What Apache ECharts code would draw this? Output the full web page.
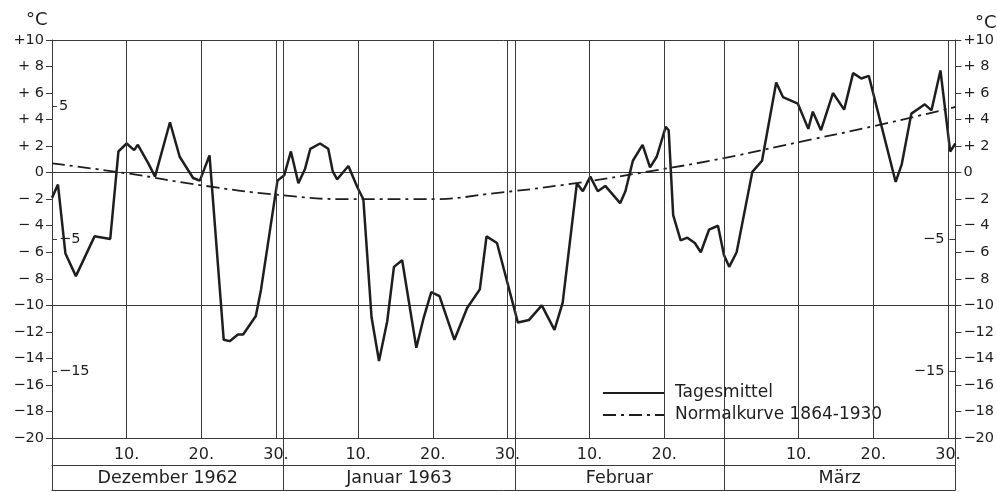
<!DOCTYPE html>
<html>
<head>
<meta charset="utf-8">
<script src="https://cdn.jsdelivr.net/npm/echarts@6/dist/echarts.min.js"></script>
<style>html,body{margin:0;padding:0;background:#fff}#c{width:997px;height:492px}</style>
</head>
<body>
<div id="c"></div>
<script>
// Day index t: 0 = start of 1 Dec 1962, 121 = end of 31 Mar 1963
var tagesmittel = [
  [0,-1.9],[0.8,-0.9],[1.8,-6.1],[3.2,-7.8],[5.7,-4.8],[7.8,-5.0],[8.9,1.6],[10.0,2.2],
  [11.0,1.7],[11.5,2.1],[12.9,0.7],[13.8,-0.3],[15.8,3.8],[17.1,1.2],[18.9,-0.4],[19.8,-0.6],
  [21.1,1.3],[23.0,-12.6],[23.8,-12.7],[24.9,-12.2],[25.6,-12.2],[27.3,-10.8],[28.0,-8.8],
  [30.2,-0.6],[31.1,-0.2],[32.0,1.6],[33.0,-0.8],[33.9,0.3],[34.6,1.8],[35.9,2.2],[37.0,1.8],
  [37.6,0.1],[38.2,-0.5],[39.7,0.5],[40.9,-1.1],[41.7,-2.0],[42.8,-10.9],[43.8,-14.2],
  [44.9,-11.2],[45.8,-7.1],[46.9,-6.6],[48.8,-13.2],[49.8,-10.9],[50.8,-9.0],[51.9,-9.3],
  [53.9,-12.6],[55.6,-10.2],[57.3,-8.8],[58.2,-4.8],[59.6,-5.3],[62.4,-11.3],[63.9,-11.1],
  [65.6,-10.0],[67.3,-11.85],[68.4,-9.8],[70.3,-0.8],[71.1,-1.4],[72.1,-0.3],[73.1,-1.4],
  [74.1,-1.0],[76.1,-2.3],[76.8,-1.4],[77.8,0.9],[79.1,2.1],[80.1,0.4],[81.0,1.2],[82.2,3.45],
  [82.6,3.2],[83.2,-3.2],[84.2,-5.1],[85.1,-4.9],[86.1,-5.3],[86.9,-6.0],[88.0,-4.3],[89.2,-4.0],
  [90.0,-6.2],[90.7,-7.1],[91.7,-6.0],[93.8,0.06],[95.1,0.9],[97.0,6.8],[97.9,5.7],[99.9,5.2],
  [101.3,3.3],[101.9,4.6],[103.0,3.2],[104.6,6.0],[106.1,4.75],[107.3,7.5],[108.4,7.1],
  [109.4,7.3],[113.0,-0.7],[113.8,0.6],[115.1,4.45],[116.0,4.8],[116.9,5.15],[117.8,4.7],
  [119.0,7.7],[120.3,1.6],[121.0,2.2]
];
var normalkurve = [
  [0,0.7],[10,-0.05],[20,-0.95],[30,-1.65],[40,-2.0],[50,-2.0],[60,-1.5],[70,-0.8],
  [80,0.1],[90,1.1],[100,2.3],[110,3.5],[121,4.95]
];
var gridDays = [10,20,30,31,41,51,61,62,72,82,90,100,110,120];
var monthBounds = [0,31,62,90,121];
var dayTickPos = [10,20,30,41,51,61,72,82,100,110,120];
var dayTickLabels = ['10.','20.','30.','10.','20.','30.','10.','20.','10.','20.','30.'];
var monthCenters = [15.5,46.5,76,105.5];
var monthNames = ['Dezember 1962','Januar 1963','Februar','März'];
var innerLeftTicks = [5,-5,-15];
var innerRightTicks = [-5,-15];
var unitText = '°C';
var seriesNames = ['Tagesmittel','Normalkurve 1864-1930'];

var FONT = 'DejaVu Sans';
var INK = '#1e1e1e';
var GRID = '#3a3a3a';

function fmtTemp(v){
  if (v === 0) return '0';
  var a = Math.abs(v), s = v > 0 ? '+' : '\u2212';
  return a < 10 ? s + ' ' + a : s + a;
}
function fmtInner(v){ return v < 0 ? '\u2212' + Math.abs(v) : String(v); }

var chart = echarts.init(document.getElementById('c'));
var xBase = {type:'value', min:0, max:121, gridIndex:0, splitLine:{show:false}};
var noZeroLine = function(show){ return {show:show, onZero:false, lineStyle:{color:GRID, width:1}}; };
chart.setOption({
  animation:false,
  backgroundColor:'#fff',
  grid:{left:52, top:40, width:906, height:398},
  graphic:[
    {type:'text', left:26, top:11, style:{text:unitText, fontFamily:FONT, fontSize:18, fill:INK}},
    {type:'text', left:975, top:14, style:{text:unitText, fontFamily:FONT, fontSize:18, fill:INK}}
  ],
  legend:{
    orient:'vertical', left:597, top:378, itemWidth:62, itemHeight:14, itemGap:2,
    selectedMode:false,
    itemStyle:{opacity:0},
    textStyle:{fontFamily:FONT, fontSize:17, color:INK, backgroundColor:'#fff', padding:[0,3,0,5], lineHeight:20},
    data:seriesNames
  },
  xAxis:[
    Object.assign({}, xBase, {
      position:'bottom',
      axisLine:noZeroLine(true),
      axisTick:{show:true, inside:false, length:52, customValues:monthBounds, lineStyle:{color:GRID, width:1}},
      axisLabel:{show:true, customValues:dayTickPos, margin:9, fontFamily:FONT, fontSize:16, color:INK,
        formatter:function(v){ var i = dayTickPos.indexOf(v); return i >= 0 ? dayTickLabels[i] : ''; }}
    }),
    Object.assign({}, xBase, {
      position:'bottom', offset:27,
      axisLine:noZeroLine(true),
      axisTick:{show:false},
      axisLabel:{show:true, customValues:monthCenters, margin:4, fontFamily:FONT, fontSize:17.5, color:INK,
        formatter:function(v){ var i = monthCenters.indexOf(v); return i >= 0 ? monthNames[i] : ''; }}
    }),
    Object.assign({}, xBase, {
      position:'bottom', offset:52,
      axisLine:noZeroLine(true),
      axisTick:{show:false}, axisLabel:{show:false}
    })
  ],
  yAxis:[
    {type:'value', min:-20, max:10, interval:2, position:'left',
      axisLine:noZeroLine(true),
      axisTick:{show:true, length:6, lineStyle:{color:GRID}},
      axisLabel:{margin:8, fontFamily:FONT, fontSize:14.5, color:INK, formatter:fmtTemp},
      splitLine:{show:false}},
    {type:'value', min:-20, max:10, interval:2, position:'right',
      axisLine:noZeroLine(true),
      axisTick:{show:true, length:6, lineStyle:{color:GRID}},
      axisLabel:{margin:8, fontFamily:FONT, fontSize:14.5, color:INK, formatter:fmtTemp},
      splitLine:{show:false}},
    {type:'value', min:-20, max:10, interval:10, position:'left',
      axisLine:noZeroLine(false), axisTick:{show:false}, axisLabel:{show:false},
      splitLine:{show:true, lineStyle:{color:GRID, width:1}}},
    {type:'value', min:-20, max:10, position:'left',
      axisLine:noZeroLine(false),
      axisTick:{show:true, inside:true, length:5, customValues:innerLeftTicks, lineStyle:{color:GRID}},
      axisLabel:{show:true, inside:true, margin:7, customValues:innerLeftTicks, fontFamily:FONT, fontSize:14.5, color:INK, formatter:fmtInner},
      splitLine:{show:false}},
    {type:'value', min:-20, max:10, position:'right',
      axisLine:noZeroLine(false),
      axisTick:{show:true, inside:true, length:6, customValues:innerRightTicks, lineStyle:{color:GRID}},
      axisLabel:{show:true, inside:true, margin:11, customValues:innerRightTicks, fontFamily:FONT, fontSize:14.5, color:INK, formatter:fmtInner},
      splitLine:{show:false}}
  ],
  series:[
    {name:seriesNames[0], type:'line', xAxisIndex:0, yAxisIndex:0, data:tagesmittel,
      symbol:'none', itemStyle:{color:INK}, lineStyle:{color:INK, width:2.5}, z:3,
      markLine:{silent:true, symbol:['none','none'], label:{show:false}, animation:false,
        lineStyle:{color:GRID, width:1, type:'solid'},
        emphasis:{disabled:true},
        data:gridDays.map(function(d){ return {xAxis:d}; })}},
    {name:seriesNames[1], type:'line', xAxisIndex:0, yAxisIndex:0, data:normalkurve,
      symbol:'none', smooth:true, itemStyle:{color:INK}, lineStyle:{color:INK, width:1.8, type:[13,5,3,5]}, z:3}
  ]
});
</script>
</body>
</html>
